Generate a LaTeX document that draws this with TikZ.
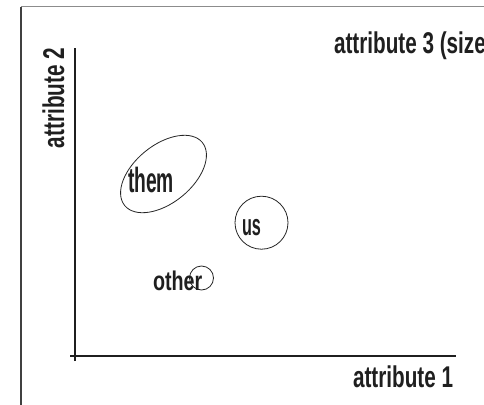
\documentclass[tikz,border=0pt]{standalone}
\usepackage{fontspec}
\setmainfont{Liberation Sans}
\usepackage{graphicx}
\usetikzlibrary{shapes.geometric}
\newcommand{\fsz}[1]{\fontsize{#1}{#1}\selectfont\bfseries}
\begin{document}
\begin{tikzpicture}[x=1pt,y=-1pt,
  lbl/.style={inner sep=0pt, outer sep=0pt, text=black!88},
  axisline/.style={line width=2.4pt, draw=black!88},
  ring/.style={draw=black!85, line width=0.8pt, inner sep=0pt, outer sep=0pt}]
\fill[white] (0,0) rectangle (484,404);
\useasboundingbox (0,0) rectangle (484,404);
\clip (0,0) rectangle (484,404);
% frame
\coordinate (ftl) at (21,6.7);
\coordinate (ftr) at (490,6.7);
\coordinate (fbl) at (21,410);
\draw[draw=black!45, line width=1.4pt] (ftl) -- (ftr);
\draw[draw=black!75, line width=1.4pt] (ftl) -- (fbl);
% axes
\coordinate (ytop) at (75,48);
\coordinate (ybot) at (75,361);
\coordinate (xleft) at (70,356);
\coordinate (xend) at (456,356);
\draw[axisline] (ybot) -- (ytop);
\draw[axisline] (xleft) -- (xend);
% labels
\node[lbl, anchor=base west, font=\fsz{30}] (a3) at (334,54) {\scalebox{0.69}[1]{attribute 3 (size)}};
\node[lbl, anchor=base west, font=\fsz{30}] (a1) at (353,387) {\scalebox{0.69}[1]{attribute 1}};
\node[lbl, anchor=base west, rotate=90, font=\fsz{30}] (a2) at (64,148) {\scalebox{0.69}[1]{attribute 2}};
% groups
\node[ring, ellipse, minimum width=100pt, minimum height=58pt, rotate=39] (themE) at (163.5,174) {};
\node[ring, circle, minimum size=53pt] (usC) at (261.5,222.7) {};
\node[ring, circle, minimum size=24pt] (otherC) at (201.5,278) {};
\node[lbl, anchor=base west, font=\fsz{35}] (them) at (128,192) {\scalebox{0.55}[1]{them}};
\node[lbl, anchor=base west, font=\fsz{30}] (us) at (242,235) {\scalebox{0.54}[1]{us}};
\node[lbl, anchor=base west, font=\fsz{27}] (other) at (153,290) {\scalebox{0.73}[1]{other}};
\end{tikzpicture}
\end{document}
